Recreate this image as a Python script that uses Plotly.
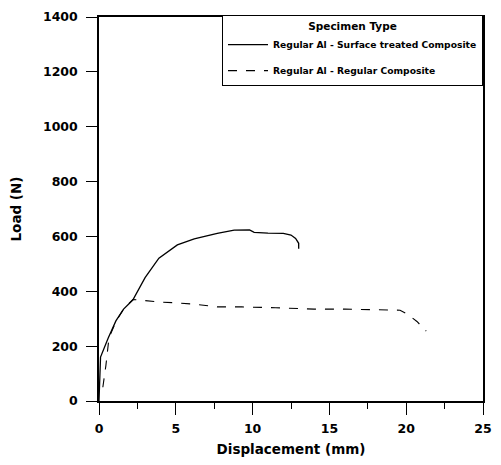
import plotly.graph_objects as go

# Surface treated composite (solid)
disp_treated = [0.0, 0.05, 0.1, 0.6, 1.1, 1.6, 2.2, 3.0, 3.9, 5.1, 6.2, 7.7, 8.8, 9.8, 10.1, 11.0, 12.0, 12.5, 12.8, 13.0, 13.0]
load_treated = [0, 140, 160, 230, 292, 335, 368, 450, 521, 569, 591, 611, 623, 624, 615, 612, 611, 605, 593, 575, 555]

# Regular composite (dashed)
disp_regular = [0.25, 0.45, 0.65, 1.1, 1.6, 2.2, 2.6, 3.9, 5.0, 6.2, 7.7, 9.3, 11.5, 14.0, 16.0, 18.0, 19.6, 20.1, 20.7, 21.3]
load_regular = [50, 130, 230, 290, 335, 370, 368, 361, 358, 353, 343, 343, 340, 335, 335, 333, 331, 316, 290, 255]

series_names = ["Regular Al - Surface treated Composite", "Regular Al - Regular Composite"]

fig = go.Figure()
fig.add_trace(go.Scatter(x=disp_treated, y=load_treated, mode="lines", name=series_names[0],
                         legendgroup="a", line=dict(color="black", width=1.3)))
fig.add_trace(go.Scatter(x=disp_regular, y=load_regular, mode="lines", name=series_names[1],
                         legendgroup="b", line=dict(color="black", width=1.1, dash="dash")))

FAM = "DejaVu Sans, Liberation Sans, Arial"
font = dict(family=FAM, size=12.5, color="black", weight="bold")

fig.update_layout(
    width=501, height=465,
    margin=dict(l=99, r=9, t=13, b=64),
    paper_bgcolor="white", plot_bgcolor="white",
    font=font,
    legend=dict(
        title=dict(text="Specimen Type", side="top center",
                   font=dict(family=FAM, size=10.5, color="black", weight="bold")),
        font=dict(family=FAM, size=9.2, color="black", weight="bold"),
        x=1.0, y=1.004, xanchor="right", yanchor="top",
        bgcolor="white", bordercolor="black", borderwidth=1,
        itemwidth=40, tracegroupgap=7,
    ),
    xaxis=dict(
        range=[0, 25], tickvals=[0, 5, 10, 15, 20, 25],
        showline=True, linecolor="black", linewidth=1.5, mirror=True,
        ticks="outside", ticklen=12, tickcolor="black", tickwidth=1.2,
        ticklabelstandoff=3,
        minor=dict(tickvals=[2.5, 7.5, 12.5, 17.5, 22.5], ticks="outside", ticklen=6, tickcolor="black"),
        showgrid=False, zeroline=False,
        title=dict(text="Displacement (mm)", font=dict(family=FAM, size=13.5, color="black", weight="bold"), standoff=10),
        tickfont=font,
    ),
    yaxis=dict(
        range=[0, 1400], tickvals=[0, 200, 400, 600, 800, 1000, 1200, 1400],
        showline=True, linecolor="black", linewidth=1.5, mirror=True,
        ticks="outside", ticklen=11, tickcolor="black", tickwidth=1.2,
        ticklabelstandoff=6,
        showgrid=False, zeroline=False,
        title=dict(text="Load (N)", font=dict(family=FAM, size=13.5, color="black", weight="bold"), standoff=18),
        tickfont=font,
    ),
)

fig.write_html("out.html")
